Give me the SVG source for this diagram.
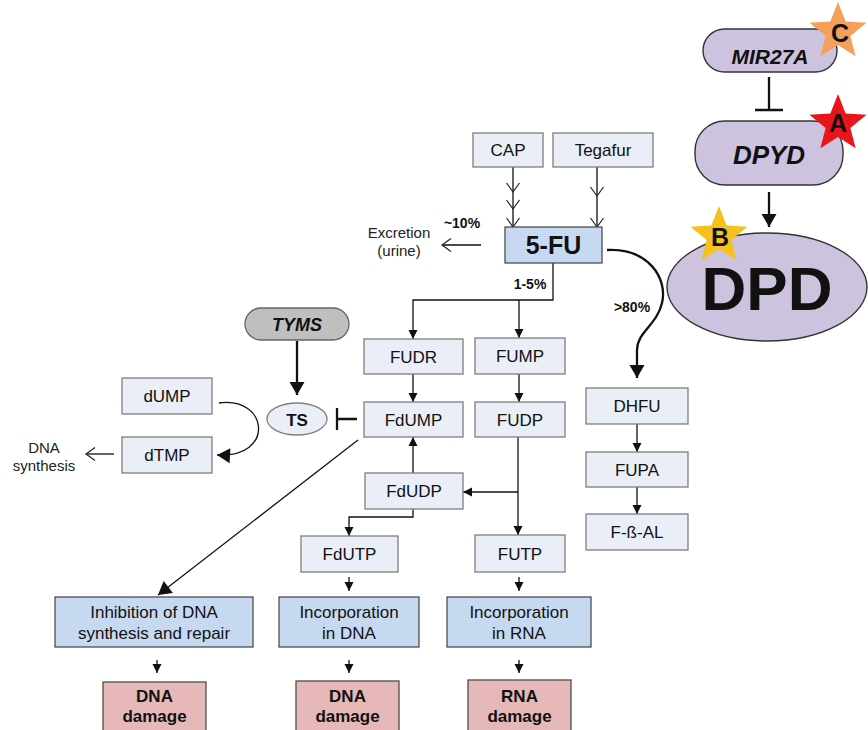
<svg xmlns="http://www.w3.org/2000/svg" xmlns:xlink="http://www.w3.org/1999/xlink" width="868" height="730" viewBox="0 0 868 730">
<defs>
<style>
text{font-family:"Liberation Sans",Arial,sans-serif;text-anchor:middle;fill:#111}
.bx{fill:#e9eef7;stroke:#7f7f7f;stroke-width:1.3}
.bl{fill:#c6d9f0;stroke:#4d4d4d;stroke-width:1.3}
.pk{fill:#e6b9b8;stroke:#4d4d4d;stroke-width:1.3}
.pu{fill:#cdc3de;stroke:#333;stroke-width:1.4}
.t{font-size:17px}
.b{font-weight:bold}
.bi{font-weight:bold;font-style:italic}
.pc{font-size:14px;font-weight:bold}
.ln{fill:none;stroke:#111;stroke-width:1.3}
.th{fill:none;stroke:#111;stroke-width:2.3}
.lt{font-size:15px;fill:#222}
.sl{font-size:25px;font-weight:bold}
</style>
<marker id="a" markerUnits="userSpaceOnUse" markerWidth="10" markerHeight="10" refX="9" refY="4.5" orient="auto" overflow="visible"><path d="M0,0 L9,4.5 L0,9 z" fill="#111"/></marker>
<marker id="aL" markerUnits="userSpaceOnUse" markerWidth="15" markerHeight="16" refX="13" refY="7.5" orient="auto" overflow="visible"><path d="M0,0 L13,7.5 L0,15 z" fill="#111"/></marker>
<marker id="v" markerUnits="userSpaceOnUse" markerWidth="12" markerHeight="14" refX="9" refY="6.5" orient="auto" overflow="visible"><path d="M0,0 L9,6.5 L0,13" fill="none" stroke="#222" stroke-width="1.2"/></marker>
<polygon id="star" points="0,-30 7.64,-10.52 28.53,-9.27 12.36,4.02 17.63,24.27 0,13 -17.63,24.27 -12.36,4.02 -28.53,-9.27 -7.64,-10.52"/>
</defs>
<rect width="868" height="730" fill="#fff"/>

<g id="connectors">
<polyline class="ln" points="513,167 513,192 513,209 513,227" marker-mid="url(#v)" marker-end="url(#v)"/>
<polyline class="ln" points="597,167 597,196 597,227" marker-mid="url(#v)" marker-end="url(#v)"/>
<line class="ln" x1="481" y1="245" x2="442" y2="245" marker-end="url(#v)"/>
<path class="ln" d="M553 263 V300 H413 V339" marker-end="url(#a)"/>
<path class="ln" d="M519 300 V338" marker-end="url(#a)"/>
<path class="ln" d="M413 374 V402" marker-end="url(#a)"/>
<path class="ln" d="M519 374 V402" marker-end="url(#a)"/>
<path class="ln" d="M518 437 V535" marker-end="url(#a)"/>
<path class="ln" d="M518 492 H463" marker-end="url(#a)"/>
<path class="ln" d="M413 473 V437" marker-end="url(#a)"/>
<path class="ln" d="M413 509 V517 H349 V536" marker-end="url(#a)"/>
<path class="ln" d="M349 577 V591" marker-end="url(#a)"/>
<path class="ln" d="M519 577 V591" marker-end="url(#a)"/>
<path class="ln" d="M157 660 V673" marker-end="url(#a)"/>
<path class="ln" d="M349 660 V673" marker-end="url(#a)"/>
<path class="ln" d="M519 660 V673" marker-end="url(#a)"/>
<path class="ln" d="M358 440 L158 595" marker-end="url(#aL)"/>
<path class="ln" d="M637 424 V452" marker-end="url(#a)"/>
<path class="ln" d="M637 487 V514" marker-end="url(#a)"/>
<path class="th" d="M607 250 C648 248 668 278 662 303 C657 325 637 332 637 350 L637 378" marker-end="url(#aL)"/>
<path class="th" d="M297 341 V395" marker-end="url(#aL)"/>
<path class="th" d="M357 419 H337 M337 408 V430"/>
<path class="ln" stroke-width="1.6" d="M219 403 C268 396 276 458 217 455" marker-end="url(#aL)"/>
<line class="ln" x1="114" y1="454" x2="86" y2="454" marker-end="url(#v)"/>
<path class="th" stroke-width="2" d="M769 77 V110 M755 110 H783"/>
<path class="th" d="M769 192 V227" marker-end="url(#aL)"/>
</g>

<g id="cap"><rect class="bx" x="473" y="133" width="70" height="34"/><text class="t" x="508" y="156">CAP</text></g>
<g id="tegafur"><rect class="bx" x="553" y="133" width="100" height="34"/><text class="t" x="603" y="156">Tegafur</text></g>
<g id="fu5"><rect class="bl" x="505" y="227" width="97" height="36" stroke-width="1.6"/><text class="sl" x="553.5" y="254">5-FU</text></g>
<g id="excretion"><text class="lt" x="399" y="238">Excretion</text><text class="lt" x="399" y="256">(urine)</text></g>
<g id="pct10"><text class="pc" x="462" y="228">~10%</text></g>
<g id="pct15"><text class="pc" x="530" y="289">1-5%</text></g>
<g id="pct80"><text class="pc" x="632" y="312">&gt;80%</text></g>

<g id="fudr"><rect class="bx" x="364" y="339" width="99" height="35"/><text class="t" x="413.5" y="362.5">FUDR</text></g>
<g id="fump"><rect class="bx" x="475" y="338" width="90" height="36"/><text class="t" x="520" y="362">FUMP</text></g>
<g id="fdump"><rect class="bx" x="364" y="402" width="99" height="35"/><text class="t" x="413.5" y="425.5">FdUMP</text></g>
<g id="fudp"><rect class="bx" x="475" y="402" width="90" height="35"/><text class="t" x="520" y="425.5">FUDP</text></g>
<g id="fdudp"><rect class="bx" x="365" y="473" width="98" height="36"/><text class="t" x="414" y="497">FdUDP</text></g>
<g id="fdutp"><rect class="bx" x="301" y="536" width="97" height="36"/><text class="t" x="349.5" y="560">FdUTP</text></g>
<g id="futp"><rect class="bx" x="475" y="535" width="90" height="37"/><text class="t" x="520" y="559.5">FUTP</text></g>

<g id="dhfu"><rect class="bx" x="586" y="388" width="102" height="36"/><text class="t" x="637" y="412">DHFU</text></g>
<g id="fupa"><rect class="bx" x="586" y="452" width="102" height="35"/><text class="t" x="637" y="475.5">FUPA</text></g>
<g id="fbal"><rect class="bx" x="586" y="514" width="102" height="36"/><text class="t" x="637" y="538">F-ß-AL</text></g>

<g id="tyms"><rect x="245" y="308" width="104" height="32" rx="16" fill="#bfbfbf" stroke="#666" stroke-width="1.3"/><text class="bi" font-size="18" x="297" y="331">TYMS</text></g>
<g id="ts"><ellipse cx="297" cy="419" rx="30" ry="16" fill="#e9eef7" stroke="#7f7f7f" stroke-width="1.3"/><text class="b" font-size="17" x="297" y="425.5">TS</text></g>
<g id="dump"><rect class="bx" x="122" y="378" width="90" height="36"/><text class="t" x="167" y="402">dUMP</text></g>
<g id="dtmp"><rect class="bx" x="122" y="437" width="90" height="36"/><text class="t" x="167" y="461">dTMP</text></g>
<g id="dnasynth"><text class="lt" x="44" y="453">DNA</text><text class="lt" x="44" y="471">synthesis</text></g>

<g id="inhib"><rect class="bl" x="55" y="597" width="198" height="50"/><text class="t" x="154" y="618">Inhibition of DNA</text><text class="t" x="154" y="639">synthesis and repair</text></g>
<g id="incdna"><rect class="bl" x="279" y="597" width="140" height="50"/><text class="t" x="349" y="618">Incorporation</text><text class="t" x="349" y="639">in DNA</text></g>
<g id="incrna"><rect class="bl" x="447" y="597" width="144" height="50"/><text class="t" x="519" y="618">Incorporation</text><text class="t" x="519" y="639">in RNA</text></g>
<g id="dmg1"><rect class="pk" x="103" y="682" width="103" height="52"/><text class="t b" x="154.5" y="702">DNA</text><text class="t b" x="154.5" y="722">damage</text></g>
<g id="dmg2"><rect class="pk" x="296" y="681" width="103" height="53"/><text class="t b" x="347.5" y="702">DNA</text><text class="t b" x="347.5" y="722">damage</text></g>
<g id="dmg3"><rect class="pk" x="468" y="680" width="103" height="54"/><text class="t b" x="519.5" y="702">RNA</text><text class="t b" x="519.5" y="722">damage</text></g>

<g id="mir27a"><rect class="pu" x="703" y="29" width="134" height="43" rx="21.5"/><text class="bi" font-size="21" x="770" y="64">MIR27A</text></g>
<g id="starC"><use href="#star" x="838" y="32" fill="#f4a05a"/><text class="b" font-size="25" x="840" y="42">C</text></g>
<g id="dpyd"><rect class="pu" x="695" y="121" width="148" height="64" rx="30"/><text class="bi" font-size="26" x="769" y="164">DPYD</text></g>
<g id="starA"><use href="#star" x="838" y="124" fill="#e8161b"/><text class="b" font-size="25" x="838" y="132">A</text></g>
<g id="dpd"><ellipse class="pu" cx="767" cy="287" rx="100" ry="54" stroke-width="1.8"/><text class="b" font-size="62" x="767" y="310">DPD</text></g>
<g id="starB"><use href="#star" x="719" y="236" fill="#f5c11d"/><text class="b" font-size="25" x="720" y="246">B</text></g>
</svg>
